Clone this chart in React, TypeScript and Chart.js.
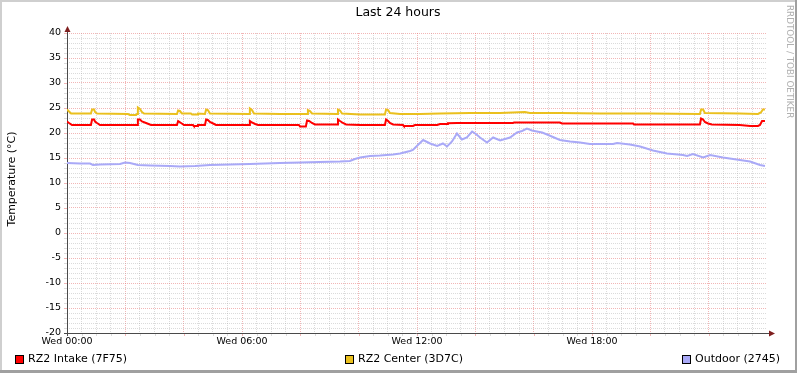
import { useEffect, useRef } from 'react';
import { Chart, registerables } from 'chart.js';

Chart.register(...registerables);

const TITLE = 'Last 24 hours';
const Y_TITLE = 'Temperature (°C)';
const WATERMARK = 'RRDTOOL / TOBI OETIKER';

const xTickHours = [0, 6, 12, 18];
const xTickLabels = ['Wed 00:00', 'Wed 06:00', 'Wed 12:00', 'Wed 18:00'];

const seriesNames = ['RZ2 Intake (7F75)', 'RZ2 Center (3D7C)', 'Outdoor (2745)'];
const seriesColors = ['#FF0000', '#EAC01E', '#A9A9F7'];

// RZ2 Intake (red)
const intakeHours = [0.00, 0.07, 0.17, 0.82, 0.86, 0.93, 0.96, 1.03, 1.13, 2.40, 2.43, 2.50, 2.57, 2.71, 2.88, 3.77, 3.81, 3.91, 4.01, 4.32, 4.35, 4.46, 4.49, 4.73, 4.77, 4.83, 4.90, 5.01, 5.11, 6.24, 6.27, 6.34, 6.45, 6.55, 7.95, 7.99, 8.19, 8.23, 8.30, 8.40, 8.50, 9.26, 9.29, 9.36, 9.46, 9.57, 10.05, 10.90, 10.94, 11.01, 11.07, 11.18, 11.52, 11.55, 11.86, 11.93, 12.69, 12.79, 13.03, 13.06, 13.37, 15.29, 15.33, 16.90, 16.97, 19.41, 19.44, 21.70, 21.74, 21.81, 21.87, 21.98, 22.11, 23.07, 23.42, 23.69, 23.76, 23.83, 23.93];
const intakeTemps = [22.3, 22.0, 21.6, 21.6, 22.7, 22.7, 22.3, 22.0, 21.6, 21.6, 22.7, 22.7, 22.3, 22.0, 21.6, 21.6, 22.4, 22.0, 21.6, 21.6, 21.4, 21.4, 21.6, 21.6, 22.7, 22.6, 22.2, 21.9, 21.6, 21.6, 22.4, 22.1, 21.8, 21.6, 21.6, 21.3, 21.3, 22.5, 22.4, 22.0, 21.7, 21.7, 22.7, 22.4, 22.0, 21.7, 21.6, 21.6, 22.7, 22.4, 22.0, 21.7, 21.6, 21.4, 21.4, 21.6, 21.6, 21.8, 21.8, 21.95, 22.0, 22.0, 22.1, 22.1, 21.9, 21.9, 21.7, 21.7, 22.9, 22.7, 22.2, 21.9, 21.7, 21.6, 21.4, 21.4, 21.6, 22.4, 22.4];

// RZ2 Center (yellow)
const centerHours = [0.00, 0.07, 0.14, 0.82, 0.86, 0.93, 0.96, 1.03, 2.09, 2.16, 2.37, 2.40, 2.43, 2.50, 2.57, 2.64, 3.77, 3.81, 3.87, 3.94, 4.25, 4.29, 4.46, 4.49, 4.73, 4.77, 4.83, 4.90, 6.24, 6.27, 6.34, 6.41, 7.30, 8.23, 8.26, 8.33, 8.40, 9.26, 9.29, 9.36, 9.43, 10.05, 10.90, 10.94, 11.01, 11.07, 11.42, 12.10, 12.79, 13.82, 14.85, 15.70, 15.87, 16.90, 18.27, 19.99, 21.70, 21.74, 21.81, 21.87, 23.07, 23.69, 23.79, 23.86, 23.93];
const centerTemps = [24.7, 24.3, 23.9, 23.9, 24.7, 24.7, 24.2, 23.9, 23.8, 23.6, 23.6, 23.8, 25.1, 24.8, 24.2, 23.9, 23.8, 24.5, 24.4, 23.9, 23.9, 23.7, 23.7, 23.9, 23.8, 24.7, 24.6, 23.9, 23.8, 24.9, 24.6, 23.9, 23.8, 23.8, 24.6, 24.4, 23.9, 23.8, 24.7, 24.5, 23.9, 23.7, 23.7, 24.7, 24.6, 24.0, 23.8, 23.8, 23.9, 24.0, 24.0, 24.2, 24.0, 24.0, 23.9, 23.9, 23.8, 24.7, 24.7, 24.0, 23.9, 23.8, 24.1, 24.7, 24.7];

// Outdoor (blue)
const outdoorHours = [0.00, 0.45, 0.79, 0.89, 1.13, 1.82, 1.99, 2.16, 2.43, 2.85, 3.53, 3.87, 4.39, 4.90, 5.59, 6.27, 7.30, 7.99, 8.67, 9.36, 9.70, 9.87, 10.05, 10.39, 10.73, 11.18, 11.42, 11.76, 11.86, 12.03, 12.21, 12.45, 12.69, 12.89, 13.03, 13.20, 13.37, 13.54, 13.71, 13.89, 14.02, 14.16, 14.40, 14.61, 14.85, 15.02, 15.19, 15.43, 15.60, 15.77, 15.94, 16.11, 16.29, 16.46, 16.66, 16.90, 17.25, 17.59, 17.93, 18.72, 18.86, 19.30, 19.65, 20.09, 20.57, 21.12, 21.26, 21.46, 21.81, 22.05, 22.49, 23.07, 23.42, 23.76, 23.93];
const outdoorTemps = [14.0, 13.9, 13.9, 13.6, 13.7, 13.8, 14.1, 14.0, 13.6, 13.5, 13.4, 13.3, 13.4, 13.6, 13.7, 13.8, 14.0, 14.1, 14.2, 14.3, 14.4, 14.8, 15.1, 15.4, 15.5, 15.7, 15.9, 16.4, 16.6, 17.6, 18.6, 17.9, 17.4, 17.9, 17.3, 18.3, 19.9, 18.7, 19.1, 20.3, 19.8, 19.1, 18.1, 19.1, 18.5, 18.8, 19.1, 20.1, 20.4, 20.9, 20.5, 20.3, 20.1, 19.7, 19.2, 18.6, 18.3, 18.1, 17.8, 17.8, 18.0, 17.7, 17.3, 16.5, 15.9, 15.6, 15.4, 15.8, 15.1, 15.6, 15.1, 14.6, 14.3, 13.6, 13.4];

const W = 797;
const H = 373;
const FONT = '"DejaVu Sans", sans-serif';
const MINOR = 'rgba(160,160,160,0.38)';
const MAJOR = 'rgba(230,110,110,0.5)';
const AXIS = '#4a4a4a';
const ARROW = '#7F1F1F';

const toPoints = (hs: number[], vs: number[]) => hs.map((h, i) => ({ x: h, y: vs[i] }));

const decor = {
  id: 'decor',
  beforeDraw(chart: any) {
    const c = chart.ctx as CanvasRenderingContext2D;
    c.save();
    c.fillStyle = '#ffffff';
    c.fillRect(0, 0, W, H);
    c.fillStyle = '#cfcfcf';
    c.fillRect(0, 0, W, 2);
    c.fillRect(0, 0, 2, H);
    c.fillStyle = '#a0a0a0';
    c.fillRect(W - 2, 0, 2, H);
    c.fillRect(0, H - 3, W, 3);
    c.fillStyle = '#000';
    c.font = `12.5px ${FONT}`;
    c.textAlign = 'center';
    c.textBaseline = 'middle';
    c.fillText(TITLE, 398, 13);
    // y-axis title
    c.save();
    c.translate(12, 179);
    c.rotate(-Math.PI / 2);
    c.font = `11px ${FONT}`;
    c.fillText(Y_TITLE, 0, 0);
    c.restore();
    c.restore();
  },
  beforeDatasetsDraw(chart: any) {
    const c = chart.ctx as CanvasRenderingContext2D;
    const { left, right, top, bottom } = chart.chartArea;
    const xs = chart.scales.x;
    const ys = chart.scales.y;
    c.save();
    for (let v = -20; v <= 40; v++) {
      const py = Math.round(ys.getPixelForValue(v)) + 0.5;
      c.strokeStyle = v % 5 === 0 ? MAJOR : MINOR;
      c.beginPath();
      c.moveTo(left - 3, py);
      c.lineTo(left, py);
      c.stroke();
    }
    for (let h = 0; h < 24; h += 0.5) {
      const px = Math.round(xs.getPixelForValue(h)) + 0.5;
      c.strokeStyle = h % 2 === 0 ? MAJOR : MINOR;
      c.beginPath();
      c.moveTo(px, bottom);
      c.lineTo(px, bottom + 3);
      c.stroke();
    }
    c.strokeStyle = AXIS;
    c.lineWidth = 1;
    c.beginPath();
    c.moveTo(left + 0.5, bottom + 3);
    c.lineTo(left + 0.5, top - 2);
    c.moveTo(left - 3, bottom + 0.5);
    c.lineTo(right + 2, bottom + 0.5);
    c.stroke();
    c.fillStyle = ARROW;
    c.beginPath();
    c.moveTo(left + 0.5, top - 7);
    c.lineTo(left + 3.5, top - 1);
    c.lineTo(left - 2.5, top - 1);
    c.closePath();
    c.fill();
    c.beginPath();
    c.moveTo(right + 8, bottom + 0.5);
    c.lineTo(right + 2, bottom + 3.5);
    c.lineTo(right + 2, bottom - 2.5);
    c.closePath();
    c.fill();
    c.restore();
  },
  afterDraw(chart: any) {
    const c = chart.ctx as CanvasRenderingContext2D;
    c.save();
    const legendX = [15, 345, 682];
    chart.data.datasets.forEach((ds: any, i: number) => {
      const x = legendX[i];
      c.fillStyle = ds.borderColor;
      c.fillRect(x, 355, 8, 8);
      c.strokeStyle = '#000';
      c.lineWidth = 1;
      c.strokeRect(x + 0.5, 355.5, 8, 8);
      c.fillStyle = '#000';
      c.font = `11px ${FONT}`;
      c.textAlign = 'left';
      c.textBaseline = 'middle';
      c.fillText(ds.label, x + 13, 359.5);
    });
    c.translate(789, 5);
    c.rotate(Math.PI / 2);
    c.fillStyle = '#b0b0b0';
    c.font = `8.8px ${FONT}`;
    c.textAlign = 'left';
    c.textBaseline = 'middle';
    c.fillText(WATERMARK, 0, 0);
    c.restore();
  },
};

export default function App() {
  const ref = useRef<HTMLCanvasElement>(null);
  useEffect(() => {
    document.body.style.margin = '0';
    const datasets = [
      toPoints(intakeHours, intakeTemps),
      toPoints(centerHours, centerTemps),
      toPoints(outdoorHours, outdoorTemps),
    ].map((d, i) => ({
      label: seriesNames[i],
      data: d,
      borderColor: seriesColors[i],
      backgroundColor: seriesColors[i],
      borderWidth: 2,
      pointRadius: 0,
      tension: 0,
      fill: false,
    }));
    const chart = new Chart(ref.current as HTMLCanvasElement, {
      type: 'line',
      data: { datasets },
      plugins: [decor],
      options: {
        animation: false,
        responsive: false,
        devicePixelRatio: 1,
        events: [],
        layout: { padding: { top: 33, left: 0, right: 30, bottom: 20 } },
        plugins: { legend: { display: false }, tooltip: { enabled: false }, title: { display: false } },
        scales: {
          x: {
            type: 'linear',
            min: 0,
            max: 24,
            afterFit: (s: any) => { s.height = 20; },
            ticks: {
              stepSize: 0.5,
              autoSkip: false,
              maxRotation: 0,
              padding: 3,
              color: '#000',
              font: { family: FONT, size: 9.5 },
              callback: (v: any) => {
                const i = xTickHours.indexOf(Number(v));
                return i >= 0 ? xTickLabels[i] : '';
              },
            },
            grid: {
              drawTicks: false,
              lineWidth: 1,
              color: (ctx: any) => {
                const v = ctx.tick ? ctx.tick.value : 0;
                if (v >= 24 || v <= 0) return 'rgba(0,0,0,0)';
                return v % 2 === 0 ? MAJOR : MINOR;
              },
            },
            border: { display: false, dash: [1, 1] },
          },
          y: {
            type: 'linear',
            min: -20,
            max: 40,
            afterFit: (s: any) => { s.width = 67; },
            ticks: {
              stepSize: 1,
              autoSkip: false,
              padding: 6,
              color: '#000',
              font: { family: FONT, size: 9.5 },
              callback: (v: any) => (Number(v) % 5 === 0 ? String(v) : ''),
            },
            title: { display: false },
            grid: {
              drawTicks: false,
              lineWidth: 1,
              color: (ctx: any) => {
                const v = ctx.tick ? ctx.tick.value : 0;
                return v % 5 === 0 ? MAJOR : MINOR;
              },
            },
            border: { display: false, dash: [1, 1] },
          },
        },
      },
    } as any);
    return () => chart.destroy();
  }, []);
  return (
    <div style={{ position: 'absolute', left: 0, top: 0, width: W, height: H }}>
      <canvas ref={ref} width={W} height={H} style={{ display: 'block', width: W, height: H }} />
    </div>
  );
}
